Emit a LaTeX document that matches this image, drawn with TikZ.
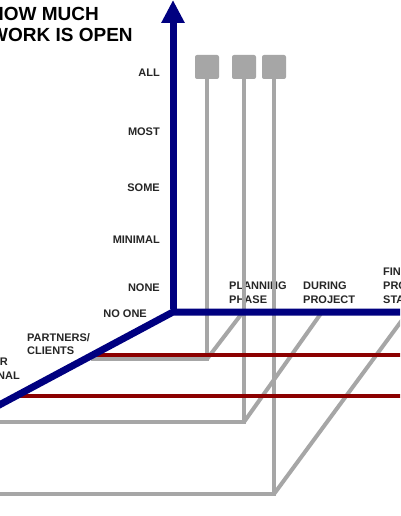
\documentclass[tikz,border=0pt]{standalone}
\usepackage{fontspec}
\setmainfont{Liberation Sans}
\usetikzlibrary{arrows.meta}
\definecolor{axisblue}{RGB}{0,0,128}
\definecolor{guidegray}{RGB}{166,166,166}
\definecolor{sharered}{RGB}{140,0,0}
\begin{document}
\begin{tikzpicture}[
  x=1pt, y=-1pt,
  axis/.style={draw=axisblue, line width=7pt},
  guide/.style={draw=guidegray, line width=4pt},
  share/.style={draw=sharered, line width=4pt},
  marker/.style={rectangle, rounded corners=2pt, fill=guidegray, minimum size=24pt, inner sep=0pt},
  label/.style={font=\fontsize{11}{13.8}\selectfont\bfseries, text=black!85, inner sep=0pt},
  level/.style={label, anchor=east},
  stage/.style={label, anchor=north west, align=left}
]
\clip (0,0) rectangle (400,516);
\fill[white] (0,0) rectangle (400,516);

% title
\node[anchor=north west, inner sep=0pt, align=left,
  font=\fontsize{19}{21.3}\selectfont\bfseries] (title) at (-10,7) {HOW MUCH\\WORK IS OPEN};

% how much is open
\node[level] (all) at (160,73) {ALL};
\node[level] (most) at (160,131.5) {MOST};
\node[level] (some) at (160,187.5) {SOME};
\node[level] (minimal) at (160,239.5) {MINIMAL};
\node[level] (none) at (160,287.5) {NONE};

% who sees it
\node[level] (noone) at (147,314) {NO ONE};
\node[stage] (partners) at (27,333) {PARTNERS/\\CLIENTS};
\node[label, anchor=north east] (other) at (8,358) {OTHER};
\node[label, anchor=north east] (external) at (20,372) {EXTERNAL};

% when
\node[stage] (planning) at (229,282) {PLANNING\\PHASE};
\node[stage] (during) at (303,282) {DURING\\PROJECT};
\node[stage] (final) at (383,268) {FINAL\\PROJECT\\STAGE};

\coordinate (origin) at (173,312);
\coordinate (top) at (173,0);
\coordinate (right) at (410,312);
\coordinate (left) at (-12,411);

% three projects
\node[marker] (planSq) at (207,67) {};
\node[marker] (duringSq) at (244,67) {};
\node[marker] (finalSq) at (274,67) {};
\coordinate (planFloor) at (207,359);
\coordinate (duringFloor) at (244,422);
\coordinate (finalFloor) at (274,494);
\coordinate (planWho) at (91,359);
\coordinate (duringWho) at (-12,422);
\coordinate (finalWho) at (-12,494);
\coordinate (planWhen) at (243,312);
\coordinate (duringWhen) at (322,312);
\coordinate (finalWhen) at (408,312);

\draw[guide] (planSq.south) -- (planFloor) -- (planWho);
\draw[guide] (planFloor) -- (planWhen);
\draw[guide] (duringSq.south) -- (duringFloor) -- (duringWho);
\draw[guide] (duringFloor) -- (duringWhen);
\draw[guide] (finalSq.south) -- (finalFloor) -- (finalWho);
\draw[guide] (finalFloor) -- (finalWhen);

\coordinate (partnersStart) at (90,355);
\coordinate (partnersEnd) at (410,355);
\coordinate (otherStart) at (20,396);
\coordinate (otherEnd) at (410,396);
\draw[share] (partnersStart) -- (partnersEnd);
\draw[share] (otherStart) -- (otherEnd);

% axes
\draw[axis] (left) -- (origin) -- (right);
\draw[axis, -{Triangle[width=22pt,length=23pt]}] ([yshift=3pt]origin) -- (top);
\end{tikzpicture}
\end{document}
